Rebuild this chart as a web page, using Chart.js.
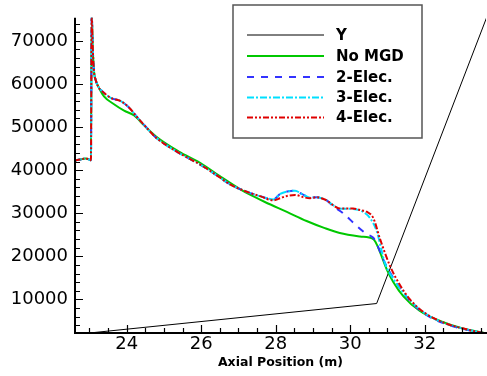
<!DOCTYPE html>
<html><head><meta charset="utf-8">
<script src="https://cdn.jsdelivr.net/npm/chart.js@4.4.1/dist/chart.umd.min.js"></script>
<style>html,body{margin:0;padding:0;background:#fff;overflow:hidden}#wrap{width:487px;height:376px}</style>
</head><body><div id="wrap"><canvas id="c" width="487" height="376"></canvas></div>
<script>
// ---- data ----
const seriesNames = ['Y', 'No MGD', '2-Elec.', '3-Elec.', '4-Elec.'];

const yLineX = [23.0, 30.71, 33.66];
const yLineV = [2200, 9040, 75350];

const noMgdX = [22.6, 22.75, 22.9, 22.98, 23.04, 23.06, 23.09, 23.12, 23.17, 23.26, 23.39, 23.66, 23.93, 24.2, 24.46, 24.78, 25.4, 25.97, 26.5, 27.04, 27.31, 27.71, 28.3, 28.83, 29.3, 29.72, 30.26, 30.62, 30.68, 30.8, 30.98, 31.16, 31.43, 31.87, 32.5, 33.0, 33.6];
const noMgdV = [42200, 42450, 42700, 42500, 42300, 76000, 68000, 63090, 60850, 59000, 57130, 55280, 53790, 52670, 50440, 47850, 44300, 41700, 38600, 35600, 34300, 32600, 30300, 28200, 26600, 25400, 24600, 24000, 23300, 21000, 17000, 14000, 10700, 7300, 4700, 3300, 2200];

const elec2X = [22.6, 22.75, 22.9, 22.98, 23.04, 23.06, 23.09, 23.12, 23.17, 23.26, 23.3, 23.57, 23.84, 24.06, 24.28, 24.51, 24.78, 25.4, 25.97, 26.5, 26.77, 27.04, 27.31, 27.6, 27.94, 28.12, 28.35, 28.52, 28.7, 28.92, 29.1, 29.25, 29.37, 29.55, 29.81, 30.13, 30.44, 30.62, 30.71, 30.89, 31.07, 31.34, 31.7, 32.1, 32.59, 33.22, 33.6];
const elec2V = [42200, 42450, 42700, 42500, 42300, 76000, 68000, 63090, 60850, 59000, 58630, 56770, 56020, 54540, 52300, 50080, 47600, 44000, 41300, 38300, 36700, 35600, 34700, 33900, 33200, 34470, 35100, 35200, 34500, 33600, 33710, 33400, 32970, 31600, 30010, 27400, 25170, 24300, 22940, 19210, 16240, 12520, 8800, 6100, 4200, 2800, 2150];

const elec3X = [22.6, 22.75, 22.9, 22.98, 23.04, 23.06, 23.09, 23.12, 23.17, 23.26, 23.3, 23.57, 23.84, 24.06, 24.28, 24.51, 24.78, 25.4, 25.97, 26.5, 26.77, 27.04, 27.31, 27.6, 27.94, 28.12, 28.35, 28.52, 28.7, 28.92, 29.1, 29.25, 29.37, 29.55, 29.72, 30.08, 30.35, 30.53, 30.71, 30.93, 31.16, 31.5, 32.0, 32.59, 33.22, 33.6];
const elec3V = [42200, 42450, 42700, 42500, 42300, 76000, 68000, 63090, 60850, 59000, 58630, 56770, 56020, 54540, 52300, 50080, 47600, 44000, 41300, 38300, 36700, 35600, 34700, 33900, 33200, 34470, 35100, 35200, 34500, 33600, 33710, 33400, 32970, 31800, 31120, 31000, 30300, 28890, 25900, 18480, 14750, 10800, 6800, 4300, 2850, 2150];

const elec4X = [22.6, 22.75, 22.9, 22.98, 23.04, 23.06, 23.09, 23.12, 23.17, 23.26, 23.3, 23.57, 23.84, 24.06, 24.28, 24.51, 24.78, 25.4, 25.97, 26.5, 26.77, 27.04, 27.31, 27.6, 27.94, 28.12, 28.3, 28.52, 28.75, 28.92, 29.1, 29.25, 29.37, 29.55, 29.72, 30.08, 30.26, 30.44, 30.62, 30.8, 31.07, 31.34, 31.61, 32.05, 32.59, 33.22, 33.6];
const elec4V = [42200, 42450, 42700, 42500, 42300, 76000, 68000, 63090, 60850, 59000, 58630, 56770, 56020, 54540, 52300, 50080, 47600, 44000, 41300, 38300, 36700, 35600, 34700, 33900, 32970, 33490, 34000, 34250, 33700, 33490, 33710, 33400, 32970, 31800, 31120, 31120, 30740, 30360, 28890, 24050, 17740, 13280, 9930, 6590, 4360, 2860, 2150];

const xTickValues = [24, 26, 28, 30, 32];
const yTickValues = [10000, 20000, 30000, 40000, 50000, 60000, 70000];
const xTitle = 'Axial Position (m)';

function pts(xs, vs) { return xs.map((x, i) => ({ x: x, y: vs[i] })); }

const styles = [
  { color: '#000000', width: 1, dash: [], smooth: false },
  { color: '#00c800', width: 2, dash: [], smooth: true },
  { color: '#3333ff', width: 2, dash: [7, 7], smooth: true },
  { color: '#00e0ff', width: 2, dash: [7, 2, 2, 2], smooth: true },
  { color: '#e00000', width: 2, dash: [6, 2, 2, 2, 2, 2], smooth: true }
];
const allData = [pts(yLineX, yLineV), pts(noMgdX, noMgdV), pts(elec2X, elec2V), pts(elec3X, elec3V), pts(elec4X, elec4V)];

const datasets = seriesNames.map((n, i) => ({
  label: n,
  data: allData[i],
  borderColor: styles[i].color,
  borderWidth: styles[i].width,
  borderDash: styles[i].dash,
  pointRadius: 0,
  fill: false,
  tension: styles[i].smooth ? 0.4 : 0,
  cubicInterpolationMode: styles[i].smooth ? 'monotone' : 'default',
  order: 4 - i
}));

const FONT = '"DejaVu Sans", "Liberation Sans", Arial, sans-serif';

const axesPlugin = {
  id: 'axesPlugin',
  afterDatasetsDraw(chart) {
    const ctx = chart.ctx, xs = chart.scales.x, ys = chart.scales.y, a = chart.chartArea;
    ctx.save();
    ctx.strokeStyle = '#000';
    ctx.lineWidth = 1.2;
    ctx.beginPath();
    for (let v = 4000; v <= 74000; v += 2000) {
      const p = Math.round(ys.getPixelForValue(v)) + 0.5;
      const len = (v % 10000 === 0) ? 8 : 5;
      ctx.moveTo(a.left, p); ctx.lineTo(a.left + len, p);
    }
    for (let v = 23; v <= 33.5; v += 0.5) {
      const p = Math.round(xs.getPixelForValue(v)) + 0.5;
      const len = (v % 2 === 0) ? 8 : 5;
      ctx.moveTo(p, a.bottom); ctx.lineTo(p, a.bottom - len);
    }
    ctx.stroke();
    ctx.lineWidth = 2;
    ctx.beginPath();
    ctx.moveTo(a.left, a.top); ctx.lineTo(a.left, a.bottom + 1);
    ctx.moveTo(a.left - 1, a.bottom); ctx.lineTo(487, a.bottom);
    ctx.stroke();
    ctx.restore();
  },
  afterDraw(chart) {
    const ctx = chart.ctx;
    ctx.save();
    ctx.fillStyle = '#fff';
    ctx.fillRect(233, 5, 189, 133);
    ctx.strokeStyle = '#555';
    ctx.lineWidth = 1.5;
    ctx.strokeRect(233, 5, 189, 133);
    const rows = [35, 56, 77, 97.5, 117.5];
    chart.data.datasets.forEach((d, i) => {
      ctx.beginPath();
      ctx.strokeStyle = d.borderColor;
      ctx.lineWidth = d.borderWidth;
      ctx.setLineDash(d.borderDash);
      ctx.moveTo(247, rows[i]); ctx.lineTo(324, rows[i]);
      ctx.stroke();
      ctx.setLineDash([]);
      ctx.fillStyle = '#000';
      ctx.font = 'bold 15px ' + FONT;
      ctx.textBaseline = 'middle';
      ctx.textAlign = 'left';
      ctx.fillText(d.label, 336, rows[i] + 1);
    });
    ctx.restore();
  }
};

new Chart(document.getElementById('c'), {
  type: 'line',
  data: { datasets: datasets },
  options: {
    responsive: false,
    animation: false,
    devicePixelRatio: 1,
    layout: { padding: { top: 5, right: 1, left: 0, bottom: 0 } },
    plugins: { legend: { display: false }, tooltip: { enabled: false } },
    scales: {
      x: {
        type: 'linear', min: 22.612, max: 33.646,
        afterBuildTicks: s => { s.ticks = xTickValues.map(v => ({ value: v })); },
        afterFit: s => { s.height = 43; },
        grid: { display: false, drawTicks: false },
        border: { display: false },
        ticks: { color: '#000', font: { family: FONT, size: 18 }, padding: 1, maxRotation: 0, autoSkip: false, callback: v => String(v) },
        title: { display: true, text: xTitle, color: '#000', font: { family: FONT, size: 12.5, weight: 'bold' }, padding: { top: 0, bottom: 6 } }
      },
      y: {
        type: 'linear', min: 2200, max: 75350,
        afterBuildTicks: s => { s.ticks = yTickValues.map(v => ({ value: v })); },
        afterFit: s => { s.width = 75; },
        grid: { display: false, drawTicks: false },
        border: { display: false },
        ticks: { color: '#000', font: { family: FONT, size: 18 }, padding: 7, autoSkip: false, callback: v => String(v) }
      }
    }
  },
  plugins: [axesPlugin]
});
</script></body></html>
